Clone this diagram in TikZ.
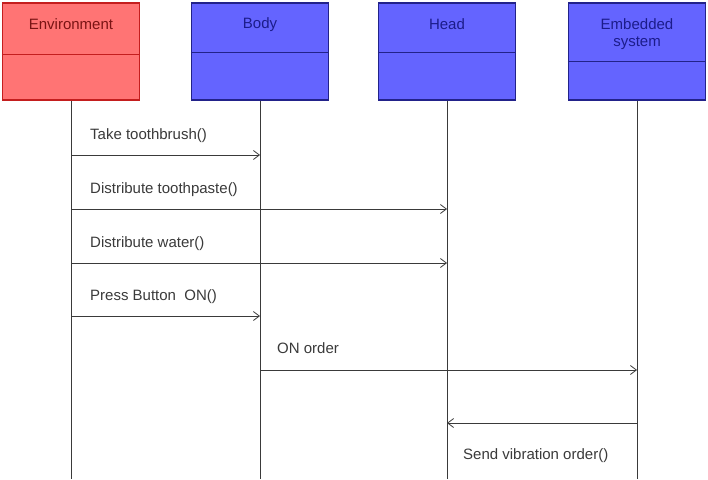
\documentclass[tikz,border=0pt]{standalone}
\usepackage{fontspec}
\setmainfont{Liberation Sans}
\usetikzlibrary{arrows.meta}
\definecolor{envfill}{HTML}{FF7474}
\definecolor{envline}{HTML}{C41E1E}
\definecolor{envtext}{HTML}{7A1414}
\definecolor{objfill}{HTML}{6464FF}
\definecolor{objline}{HTML}{22228A}
\definecolor{objtext}{HTML}{1C1C8A}
\definecolor{ink}{HTML}{3A3A3A}

\begin{document}
\begin{tikzpicture}[x=1pt,y=-1pt,
  lifebox/.style={line width=1.4pt, minimum width=137pt, minimum height=97pt, inner sep=0pt},
  envbox/.style={lifebox, fill=envfill, draw=envline},
  objbox/.style={lifebox, fill=objfill, draw=objline},
  divider/.style={line width=0.9pt},
  lifeline/.style={draw=ink, line width=0.8pt},
  msg/.style={draw=ink, line width=0.8pt, -{Straight Barb[length=6pt,width=9pt]}},
  msglabel/.style={anchor=base west, text=ink, font=\fontsize{15}{18}\selectfont, inner sep=0pt},
  title/.style={anchor=base, font=\fontsize{15}{17}\selectfont, align=center, inner sep=0pt}]

% canvas
\fill[white] (0,0) rectangle (708,479);
\useasboundingbox (0,0) rectangle (708,479);

% lifeline heads
\node[envbox] (env)  at (71,51.5)  {};
\node[objbox] (body) at (260,51.5) {};
\node[objbox] (head) at (447,51.5) {};
\node[objbox] (emb)  at (637,51.5) {};

\draw[divider, draw=envline] (env.west |- 0,54)  -- (env.east |- 0,54);
\draw[divider, draw=objline] (body.west |- 0,52) -- (body.east |- 0,52);
\draw[divider, draw=objline] (head.west |- 0,52) -- (head.east |- 0,52);
\draw[divider, draw=objline] (emb.west |- 0,61)  -- (emb.east |- 0,61);

\node[title, text=envtext] (env-t)  at (71,29)  {Environment};
\node[title, text=objtext] (body-t) at (260,28) {Body};
\node[title, text=objtext] (head-t) at (447,29) {Head};
% two-line title: the base anchor sits on the last line
\node[title, text=objtext] (emb-t)  at (637,46) {Embedded\\system};

% lifelines
\coordinate (env-end)  at (71,479);
\coordinate (body-end) at (260,479);
\coordinate (head-end) at (447,479);
\coordinate (emb-end)  at (637,479);
\draw[lifeline] (env.south)  -- (env-end);
\draw[lifeline] (body.south) -- (body-end);
\draw[lifeline] (head.south) -- (head-end);
\draw[lifeline] (emb.south)  -- (emb-end);

% message anchor points on the lifelines
\coordinate (env-1)  at (71,155);  \coordinate (body-1) at (260,155);
\coordinate (env-2)  at (71,209);  \coordinate (head-2) at (447,209);
\coordinate (env-3)  at (71,263);  \coordinate (head-3) at (447,263);
\coordinate (env-4)  at (71,316);  \coordinate (body-4) at (260,316);
\coordinate (body-5) at (260,370); \coordinate (emb-5)  at (637,370);
\coordinate (emb-6)  at (637,423); \coordinate (head-6) at (447,423);

% messages
\draw[msg] (env-1)  -- (body-1);
\draw[msg] (env-2)  -- (head-2);
\draw[msg] (env-3)  -- (head-3);
\draw[msg] (env-4)  -- (body-4);
\draw[msg] (body-5) -- (emb-5);
\draw[msg] (emb-6)  -- (head-6);

\node[msglabel] (l1) at (90,139)  {Take toothbrush()};
\node[msglabel] (l2) at (90,193)  {Distribute toothpaste()};
\node[msglabel] (l3) at (90,247)  {Distribute water()};
\node[msglabel] (l4) at (90,300)  {Press Button\ \ ON()};
\node[msglabel] (l5) at (277,353) {ON order};
\node[msglabel] (l6) at (463,459) {Send vibration order()};
\end{tikzpicture}
\end{document}
